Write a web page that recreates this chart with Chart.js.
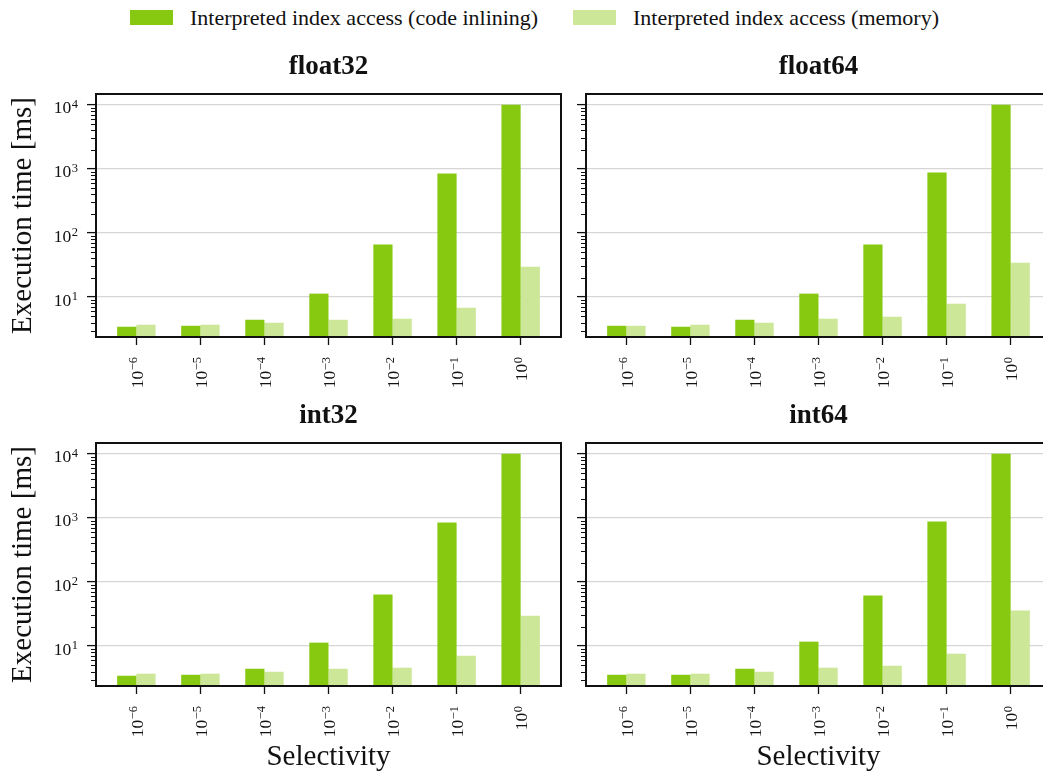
<!DOCTYPE html>
<html>
<head>
<meta charset="utf-8">
<script src="https://cdn.jsdelivr.net/npm/chart.js@4.4.1/dist/chart.umd.min.js"></script>
<style>
  html, body { margin: 0; padding: 0; background: #fff; }
  body { width: 1043px; height: 776px; overflow: hidden; position: relative; font-family: "Liberation Serif", serif; }
  canvas { position: absolute; }
  .swatch { position: absolute; top: 10px; width: 43px; height: 15px; }
  .legtext { position: absolute; top: 0; height: 36px; line-height: 36px; font-size: 22px; color: #111; white-space: nowrap; }
</style>
</head>
<body>
<div class="swatch" id="sw0" style="left:130px"></div>
<div class="legtext" id="lt0" style="left:190px"></div>
<div class="swatch" id="sw1" style="left:573px"></div>
<div class="legtext" id="lt1" style="left:633px"></div>
<canvas id="c0"></canvas>
<canvas id="c1"></canvas>
<canvas id="c2"></canvas>
<canvas id="c3"></canvas>
<script>
// Selectivity categories (powers of ten) and panel names
const tickBase = '10';
const selectivityExponents = ['−6', '−5', '−4', '−3', '−2', '−1', '0'];
const panelTitles = ['float32', 'float64', 'int32', 'int64'];
const seriesNames = ['Interpreted index access (code inlining)', 'Interpreted index access (memory)'];
const seriesColors = ['#87c910', '#cce798'];

// Execution time in ms, one array per panel and access method
const float32Inlining = [3.44, 3.56, 4.42, 11.3, 65.7, 846, 10000];
const float32Memory   = [3.70, 3.70, 3.97, 4.42, 4.59, 6.81, 29.8];
const float64Inlining = [3.56, 3.44, 4.42, 11.3, 65.7, 877, 10000];
const float64Memory   = [3.56, 3.70, 3.97, 4.59, 4.93, 7.87, 34.4];
const int32Inlining   = [3.44, 3.56, 4.42, 11.3, 63.4, 846, 10000];
const int32Memory     = [3.70, 3.70, 3.97, 4.42, 4.59, 7.06, 29.8];
const int64Inlining   = [3.56, 3.56, 4.42, 11.7, 61.2, 877, 10000];
const int64Memory     = [3.70, 3.70, 3.97, 4.59, 4.93, 7.59, 35.7];

// Y axis (log) major ticks and their exponents
const yTickValues = [10, 100, 1000, 10000];
const yTickExponents = ['1', '2', '3', '4'];
const yMin = 2.38, yMax = 14680;

const panelSeries = [
  [float32Inlining, float32Memory],
  [float64Inlining, float64Memory],
  [int32Inlining, int32Memory],
  [int64Inlining, int64Memory]
];

// Canvas placement for the 2x2 grid
const panelBoxes = [
  { left: 0,   top: 40,  w: 564, h: 353, yw: 96, xh: 56, yLabels: true,  xTitle: false },
  { left: 574, top: 40,  w: 480, h: 353, yw: 12, xh: 56, yLabels: false, xTitle: false },
  { left: 0,   top: 389, w: 564, h: 387, yw: 96, xh: 90, yLabels: true,  xTitle: true },
  { left: 574, top: 389, w: 480, h: 387, yw: 12, xh: 90, yLabels: false, xTitle: true }
];

// Legend
seriesNames.forEach((name, i) => {
  document.getElementById('sw' + i).style.background = seriesColors[i];
  document.getElementById('lt' + i).textContent = name;
});

// Minor log ticks (2..9 in each decade) inside the axis range
const minorTickValues = [];
for (let e = 0; e <= 4; e++) {
  for (let k = 2; k <= 9; k++) {
    const v = k * Math.pow(10, e);
    if (v > yMin && v < yMax) minorTickValues.push(v);
  }
}

const FONT = '"Liberation Serif", serif';
Chart.defaults.font.family = FONT;
Chart.defaults.color = '#111';

const BASE_FONT = '17.5px ' + FONT;
const EXP_FONT = '12.5px ' + FONT;

// Draws "10" with a raised exponent, right-aligned so that it ends at x = 0
function drawPower(ctx, exponent, baseline) {
  ctx.textAlign = 'right';
  ctx.textBaseline = 'alphabetic';
  ctx.font = EXP_FONT;
  const expWidth = ctx.measureText(exponent).width;
  ctx.fillText(exponent, 0, baseline - 5.5);
  ctx.font = BASE_FONT;
  ctx.fillText(tickBase, -expWidth - 0.5, baseline);
}

// Closed frame around the plot area, minor y ticks and power-of-ten tick labels
const framePlugin = {
  id: 'frame',
  afterDraw(chart, args, opts) {
    const { ctx, chartArea: a } = chart;
    const ys = chart.scales.y;
    const xs = chart.scales.x;
    ctx.save();
    ctx.strokeStyle = '#111';
    ctx.lineWidth = 1.2;
    ctx.beginPath();
    minorTickValues.forEach(v => {
      const py = Math.round(ys.getPixelForValue(v)) + 0.5;
      ctx.moveTo(a.left - 5, py);
      ctx.lineTo(a.left, py);
    });
    ctx.stroke();
    ctx.lineWidth = 2;
    ctx.strokeRect(a.left, a.top, a.right - a.left, a.bottom - a.top);

    ctx.fillStyle = '#111';
    // x tick labels, rotated to read upwards
    selectivityExponents.forEach((exp, i) => {
      const px = xs.getPixelForValue(i);
      ctx.save();
      ctx.translate(px, a.bottom + 8 + 12);
      ctx.rotate(-Math.PI / 2);
      drawPower(ctx, exp, 6.5);
      ctx.restore();
    });
    // y tick labels on the left-hand panels
    if (opts.yLabels) {
      yTickValues.forEach((v, i) => {
        const py = ys.getPixelForValue(v);
        ctx.save();
        ctx.translate(a.left - 9 - 9, py);
        drawPower(ctx, yTickExponents[i], 8.6);
        ctx.restore();
      });
    }
    ctx.restore();
  }
};

panelBoxes.forEach((box, p) => {
  const canvas = document.getElementById('c' + p);
  canvas.width = box.w;
  canvas.height = box.h;
  canvas.style.left = box.left + 'px';
  canvas.style.top = box.top + 'px';
  canvas.style.width = box.w + 'px';
  canvas.style.height = box.h + 'px';

  const datasets = panelSeries[p].map((values, s) => ({
    label: seriesNames[s],
    data: values.map((v, i) => ({ x: i, y: v })),
    backgroundColor: seriesColors[s],
    borderWidth: 0,
    categoryPercentage: 0.6,
    barPercentage: 1.0
  }));

  new Chart(canvas, {
    type: 'bar',
    data: { datasets },
    plugins: [framePlugin],
    options: {
      responsive: false,
      animation: false,
      devicePixelRatio: 1,
      layout: { padding: { left: 0, right: 3, top: 0, bottom: 0 } },
      plugins: {
        legend: { display: false },
        tooltip: { enabled: false },
        frame: { yLabels: box.yLabels },
        title: {
          display: true,
          text: panelTitles[p],
          fullSize: false,
          font: { size: 27, weight: 'bold' },
          color: '#111',
          padding: { top: 11.3, bottom: 10.3 }
        }
      },
      scales: {
        x: {
          type: 'linear',
          min: -0.63,
          max: 6.63,
          offset: false,
          afterBuildTicks: scale => { scale.ticks = selectivityExponents.map((_, i) => ({ value: i })); },
          afterFit: scale => { scale.height = box.xh; },
          ticks: { display: false, autoSkip: false },
          grid: {
            offset: false,
            drawOnChartArea: false,
            drawTicks: true,
            tickLength: 8,
            tickColor: '#111',
            tickWidth: 1.3
          },
          border: { display: false },
          title: {
            display: box.xTitle,
            text: 'Selectivity',
            font: { size: 29 },
            color: '#111',
            padding: { top: 0, bottom: 1 }
          }
        },
        y: {
          type: 'logarithmic',
          min: yMin,
          max: yMax,
          afterBuildTicks: scale => { scale.ticks = yTickValues.map(v => ({ value: v, major: true })); },
          afterFit: scale => { scale.width = box.yw; },
          ticks: { display: false },
          grid: {
            color: '#d6d6d6',
            lineWidth: 1.2,
            drawTicks: true,
            tickLength: 9,
            tickColor: '#111',
            tickWidth: 1.3
          },
          border: { display: false },
          title: {
            display: box.yLabels,
            text: 'Execution time [ms]',
            font: { size: 29 },
            color: '#111',
            padding: { top: 6, bottom: 0 }
          }
        }
      }
    }
  });
});
</script>
</body>
</html>
